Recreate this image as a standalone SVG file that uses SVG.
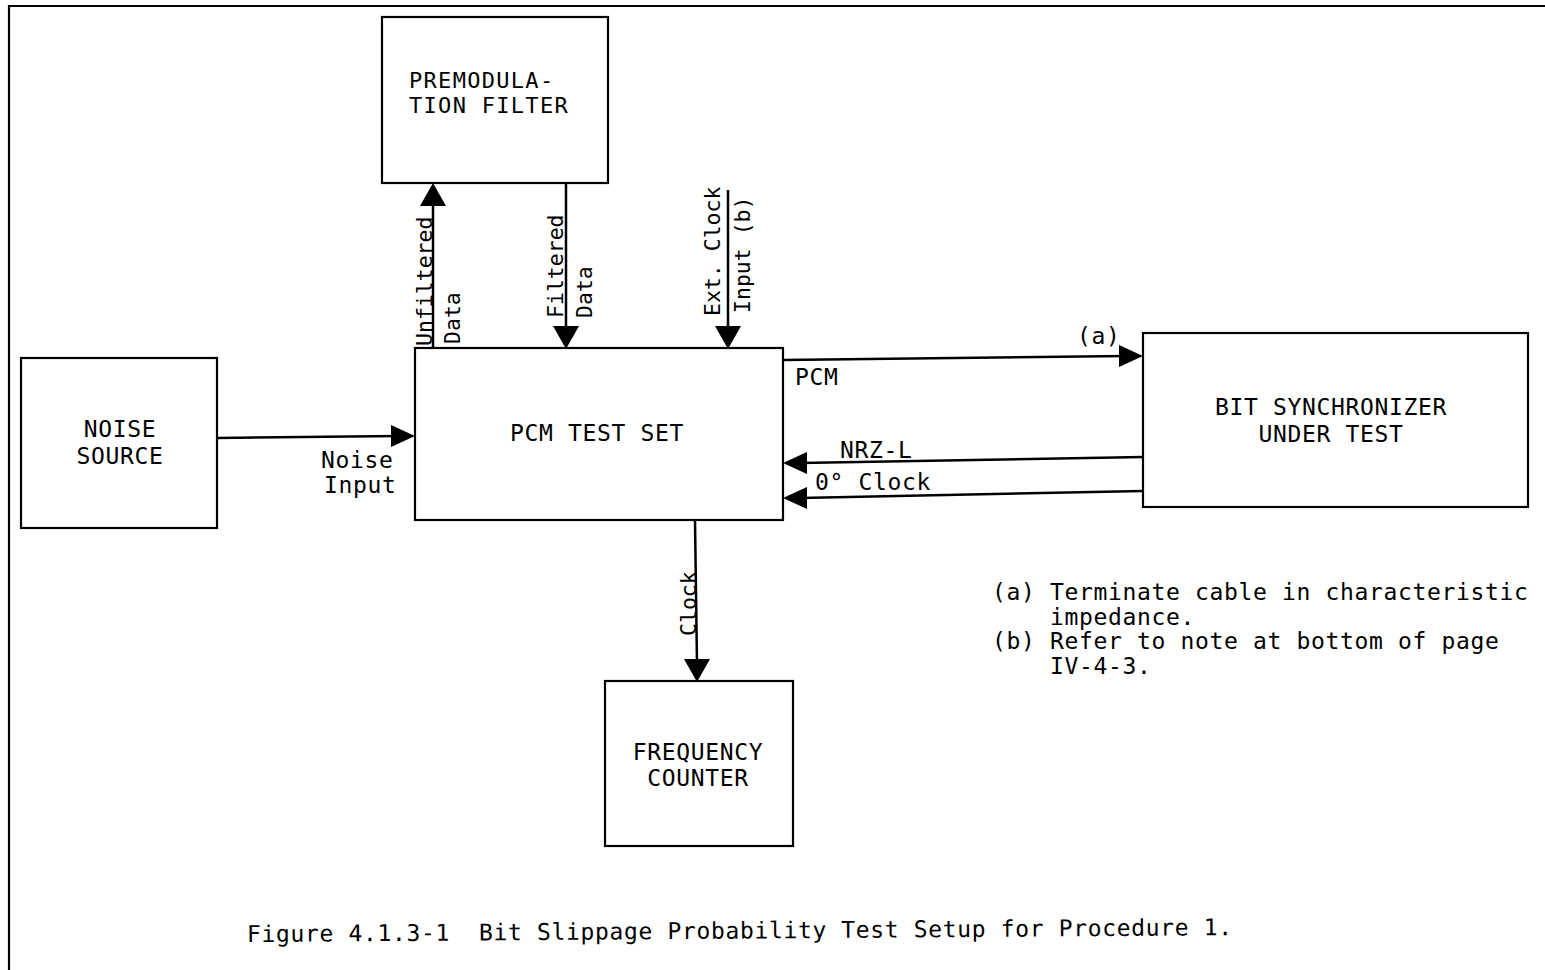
<svg xmlns="http://www.w3.org/2000/svg" width="1545" height="970" viewBox="0 0 1545 970">
<style>
.box{fill:#fff;stroke:#000;stroke-width:2.2}
.ln{fill:none;stroke:#000;stroke-width:2.5}
.ah{fill:#000;stroke:none}
text{font-family:"DejaVu Sans Mono","Liberation Mono",monospace;font-size:23px;fill:#000;letter-spacing:0.65px;white-space:pre}
.c{text-anchor:middle}
.v{font-size:21.5px;letter-spacing:0px}
.s{font-size:22px;letter-spacing:1.3px}
</style>
<rect width="1545" height="970" fill="#fff"/>
<path d="M9 980 V6 H1550" fill="none" stroke="#000" stroke-width="2.2"/>

<g id="premod">
<rect class="box" x="382" y="17" width="226" height="166"/>
<text class="s" x="409" y="88">PREMODULA-</text>
<text class="s" x="409" y="113">TION FILTER</text>
</g>
<g id="pcm">
<rect class="box" x="415" y="348" width="368" height="172"/>
<text class="c" x="597" y="441">PCM TEST SET</text>
</g>
<g id="noise">
<rect class="box" x="21" y="358" width="196" height="170"/>
<text class="c" x="120" y="437">NOISE</text>
<text class="c" x="120" y="464">SOURCE</text>
</g>
<g id="bitsync">
<rect class="box" x="1143" y="333" width="385" height="174"/>
<text class="c" x="1331" y="415">BIT SYNCHRONIZER</text>
<text class="c" x="1331" y="442">UNDER TEST</text>
</g>
<g id="freq">
<rect class="box" x="605" y="681" width="188" height="165"/>
<text class="c" x="698" y="760">FREQUENCY</text>
<text class="c" x="698" y="786">COUNTER</text>
</g>

<g id="connectors">
<line class="ln" x1="433" y1="348" x2="433" y2="200"/>
<polygon class="ah" points="433,183 420,206 446,206"/>
<line class="ln" x1="566" y1="183" x2="566" y2="332"/>
<polygon class="ah" points="566,349 553,326 579,326"/>
<line class="ln" x1="728" y1="190" x2="728" y2="332"/>
<polygon class="ah" points="728,349 715,326 741,326"/>
<line class="ln" x1="217" y1="438" x2="398" y2="436"/>
<polygon class="ah" points="415,436 391,425 391,447"/>
<line class="ln" x1="783" y1="360" x2="1126" y2="356"/>
<polygon class="ah" points="1143,356 1119,345 1119,367"/>
<line class="ln" x1="1143" y1="457" x2="800" y2="463"/>
<polygon class="ah" points="783,463 807,452 807,474"/>
<line class="ln" x1="1143" y1="491" x2="800" y2="498"/>
<polygon class="ah" points="783,498 807,487 807,509"/>
<line class="ln" x1="695" y1="520" x2="697" y2="665"/>
<polygon class="ah" points="697,682 684,659 710,659"/>
</g>

<g id="labels">
<text class="v" transform="translate(432,346) rotate(-90)">Unfiltered</text>
<text class="v" transform="translate(460,344) rotate(-90)">Data</text>
<text class="v" transform="translate(563,318) rotate(-90)">Filtered</text>
<text class="v" transform="translate(592,318) rotate(-90)">Data</text>
<text class="v" transform="translate(720,316) rotate(-90)">Ext. Clock</text>
<text class="v" transform="translate(750,313) rotate(-90)">Input (b)</text>
<text class="v" transform="translate(696,636) rotate(-90)">Clock</text>
<text x="321" y="468">Noise</text>
<text x="324" y="493">Input</text>
<text x="795" y="385">PCM</text>
<text x="1077" y="344">(a)</text>
<text x="840" y="458">NRZ-L</text>
<text x="815" y="490">0° Clock</text>
</g>

<g id="notes">
<text x="992" y="600">(a) Terminate cable in characteristic</text>
<text x="1050" y="625">impedance.</text>
<text x="992" y="649">(b) Refer to note at bottom of page</text>
<text x="1050" y="674">IV-4-3.</text>
</g>
<text x="247" y="942" transform="rotate(-0.4 247 942)">Figure 4.1.3-1  Bit Slippage Probability Test Setup for Procedure 1.</text>
</svg>
